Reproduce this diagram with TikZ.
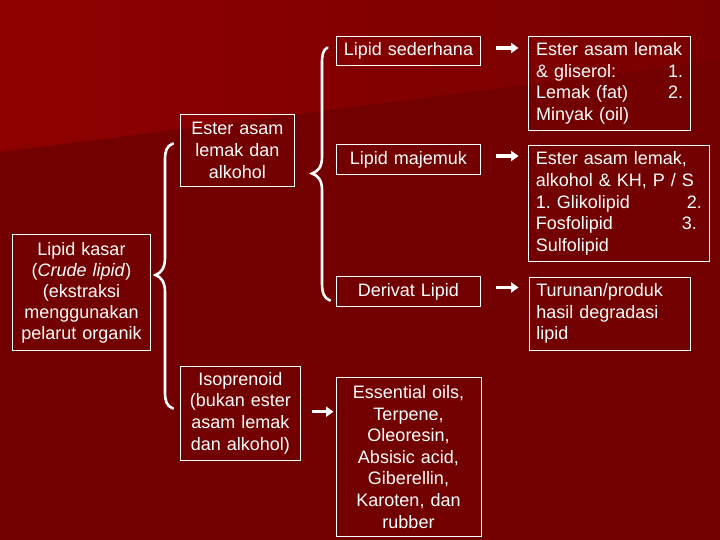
\documentclass[tikz,border=0pt]{standalone}
\usepackage{fontspec}
\setmainfont{Liberation Sans}
\usetikzlibrary{arrows.meta}
\definecolor{bgdark}{RGB}{115,0,0}
\definecolor{bglight}{RGB}{142,0,0}
\definecolor{bgmid}{RGB}{121,0,0}
\begin{document}
\frenchspacing
\begin{tikzpicture}[x=1pt,y=-1pt,
  box/.style={draw=white, line width=0.9pt, text=white, inner sep=0pt, font=\fontsize{18}{21.6}\selectfont},
  cbox/.style={box, align=center},
  lbox/.style={box, align=left},
  brace/.style={draw=white, line width=2.6pt, line cap=round},
  arr/.style={draw=white, line width=3.5pt, -{Triangle[length=7.5pt,width=10pt]}}]
\useasboundingbox (0,0) rectangle (720,540);
\fill[bgdark] (0,0) rectangle (720,540);
\shade[left color=bglight, right color=bgmid] (0,0) -- (720,0) -- (720,60) -- (0,152) -- cycle;

% level 1
\node[cbox, minimum width=138.4pt, minimum height=116.4pt, text width=136pt, font=\fontsize{18}{21}\selectfont] (kasar) at (81.5,292.5)
  {Lipid kasar\\(\textit{Crude lipid})\\(ekstraksi\\menggunakan\\pelarut organik};

% level 2
\node[cbox, minimum width=114.5pt, minimum height=72.7pt, text width=110pt] (alk) at (237.3,150.4)
  {Ester asam\\lemak dan\\alkohol};
\node[cbox, minimum width=120.7pt, minimum height=94pt, text width=116pt] (iso) at (240.4,413)
  {Isoprenoid\\(bukan ester\\asam lemak\\dan alkohol)};

% level 3
\node[cbox, minimum width=144pt, minimum height=29pt, text width=140pt] (sed) at (408.5,50.7) {Lipid sederhana};
\node[cbox, minimum width=144pt, minimum height=30pt, text width=140pt] (maj) at (408.5,159.6) {Lipid majemuk};
\node[cbox, minimum width=144pt, minimum height=30.3pt, text width=140pt] (der) at (408.5,291.4) {Derivat Lipid};
\node[cbox, minimum width=145pt, minimum height=158.3pt, text width=141pt] (ess) at (408.5,456.9)
  {Essential oils,\\Terpene,\\Oleoresin,\\Absisic acid,\\Giberellin,\\Karoten, dan\\rubber};

% level 4
\node[lbox, minimum width=162.2pt, minimum height=94pt, text width=147pt] (e1) at (609.6,83.2)
  {Ester asam lemak\\\& gliserol:\hfill 1.\\Lemak (fat)\hfill 2.\\Minyak (oil)};
\node[lbox, minimum width=180.5pt, minimum height=116.4pt, text width=166pt] (e2) at (618.8,203.5)
  {Ester asam lemak,\\alkohol \& KH, P / S\\1. Glikolipid\hfill 2.\\Fosfolipid\hfill 3.\kern5pt\\Sulfolipid};
\node[lbox, minimum width=161.7pt, minimum height=72.7pt, text width=147pt] (tur) at (609.9,313.7)
  {Turunan/produk\\hasil degradasi\\lipid};

% braces
\draw[brace] (173,143.5) .. controls (166.5,146) and (165,151) .. (165,160) -- (165,258)
  .. controls (165,268) and (161,273) .. (155.5,275)
  .. controls (161,277) and (165,282) .. (165,292) -- (165,392)
  .. controls (165,401) and (166.5,406) .. (173,408.5);
\draw[brace] (327.5,47.5) .. controls (322.8,50) and (322,55) .. (322,63) -- (322,157)
  .. controls (322,167) and (318,171.5) .. (312,173.5)
  .. controls (318,175.5) and (322,180) .. (322,190) -- (322,283)
  .. controls (322,293) and (324,298) .. (330,300.5);

% arrows
\coordinate (a1s) at ([xshift=15.5pt,yshift=2.7pt]sed.east);
\coordinate (a1e) at ([xshift=-9.5pt]a1s -| e1.west);
\draw[arr] (a1s) -- (a1e);
\coordinate (a2s) at ([xshift=15.5pt,yshift=3.6pt]maj.east);
\coordinate (a2e) at ([xshift=-9.5pt]a2s -| e2.west);
\draw[arr] (a2s) -- (a2e);
\coordinate (a3s) at ([xshift=15.5pt,yshift=3.9pt]der.east);
\coordinate (a3e) at ([xshift=-10pt]a3s -| tur.west);
\draw[arr] (a3s) -- (a3e);
\coordinate (a4s) at ([xshift=11.2pt,yshift=1.3pt]iso.east);
\coordinate (a4e) at ([xshift=-2pt]a4s -| ess.west);
\draw[arr] (a4s) -- (a4e);
\end{tikzpicture}
\end{document}
